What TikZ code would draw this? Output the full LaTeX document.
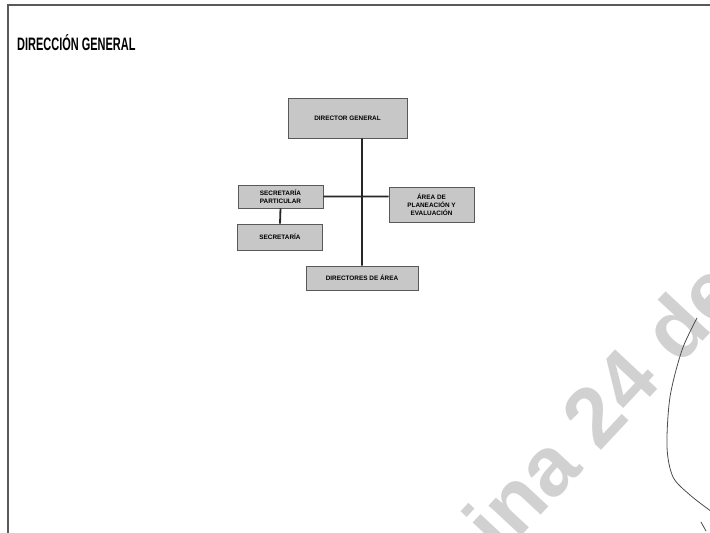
\documentclass[tikz,border=0pt]{standalone}
\usepackage{fontspec}
\setmainfont{Liberation Sans}
\usepackage{tikz}
\usetikzlibrary{calc,positioning}
\tikzset{
   org box/.style={draw=black!65, line width=0.6pt, fill=black!22, align=center,
                   inner sep=1pt, font=\bfseries\fontsize{6.4}{7.8}\selectfont},
   org line/.style={draw=black!85, line width=1.8pt},
   frame line/.style={draw=black!65, line width=1.6pt},
   watermark/.style={text=black!18, font=\bfseries\fontsize{84}{84}\selectfont, anchor=base west, inner sep=0pt},
   pen stroke/.style={draw=black!70, line width=0.8pt, line cap=round}
}

\begin{document}
\begin{tikzpicture}[x=1pt,y=-1pt]
  \useasboundingbox (0,0) rectangle (710,533);
  \begin{scope}
    \clip (0,0) rectangle (710,533);
    \node[watermark, rotate=47] (marca) at (501,558) {ina 24 de};
  \end{scope}
  \draw[frame line] (8,533) -- (8,5) -- (710,5);
  \node[anchor=base west, inner sep=0pt] (titulo) at (17,50)
     {\scalebox{0.61}[1]{\bfseries\fontsize{18}{18}\selectfont DIRECCIÓN GENERAL}};

  \node[org box, minimum width=119pt, minimum height=40pt] (dg) at (347.5,118) {DIRECTOR GENERAL};
  \node[org box, minimum width=85pt, minimum height=23pt] (sp) at (280.5,196.5) {SECRETARÍA\\PARTICULAR};
  \node[org box, minimum width=85pt, minimum height=26pt] (sec) at (280,237) {SECRETARÍA};
  \node[org box, minimum width=85pt, minimum height=35pt] (area) at (431.5,204.5) {ÁREA DE\\PLANEACIÓN Y\\EVALUACIÓN};
  \node[org box, minimum width=112pt, minimum height=24pt] (dir) at (362,278) {DIRECTORES DE ÁREA};

  \path[org line]
    (dir.north |- dg.south) -- (dir.north)
    (sp.east) -- (sp.east -| area.west)
    (sp.south) -- (sec.north);

  \draw[pen stroke] plot[smooth] coordinates {(697,318) (682,350) (670,397) (667,447) (673,477) (690,495) (712,512)};
  \draw[pen stroke] (701,522) -- (706,531);
\end{tikzpicture}
\end{document}
